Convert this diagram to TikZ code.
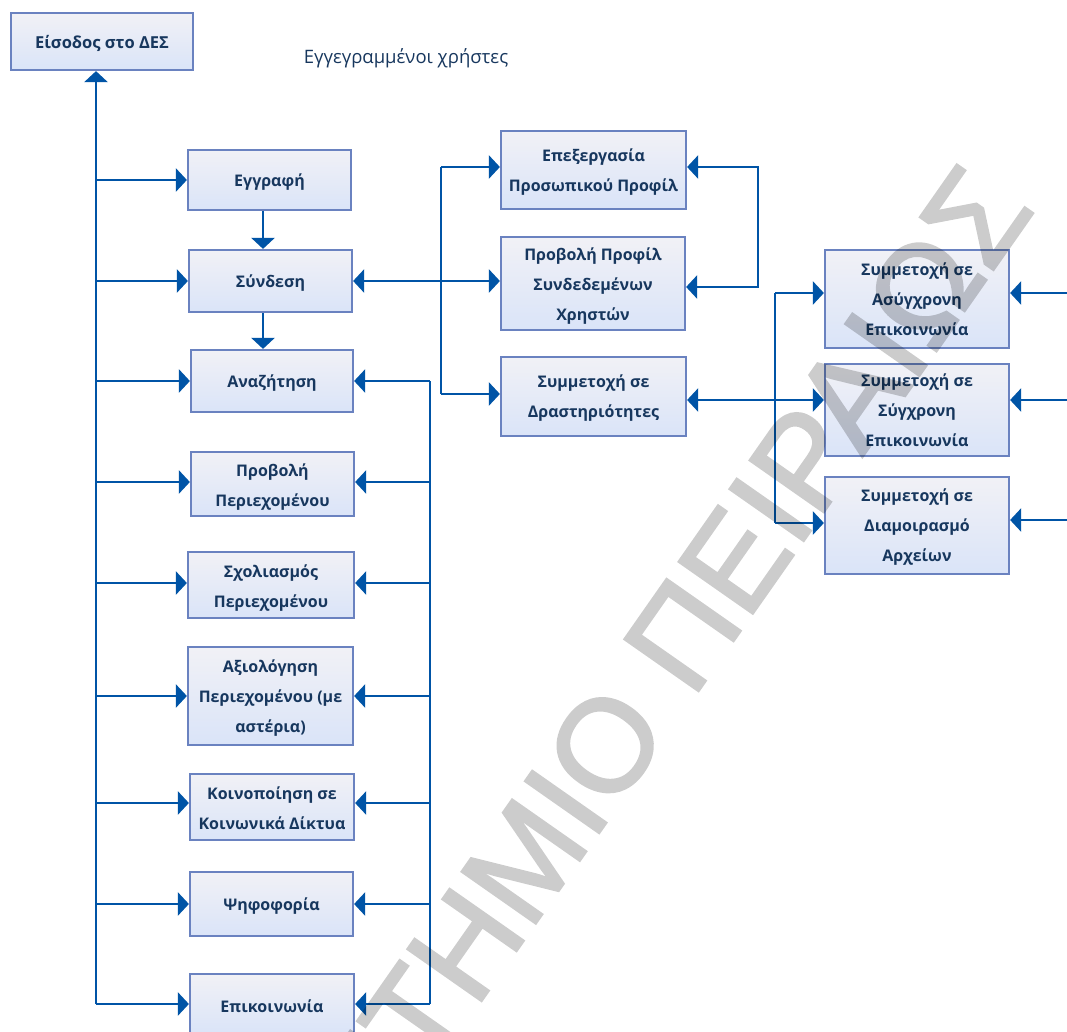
\documentclass[tikz,border=0pt]{standalone}
\usepackage{fontspec}
\setmainfont{Open Sans}
\newfontfamily\wmfont[FakeBold=2]{Liberation Sans}
\usetikzlibrary{arrows.meta,calc}
\definecolor{linkblue}{HTML}{0054A6}
\definecolor{boxline}{HTML}{6A82C0}
\definecolor{boxtop}{HTML}{F1F1F6}
\definecolor{boxbottom}{HTML}{DAE4F8}
\definecolor{inktext}{HTML}{17375E}
\newcommand\dn[1]{\rule{0pt}{#1pt}}
\tikzset{
  flowbox/.style={draw=boxline,line width=2.2pt,top color=boxtop,bottom color=boxbottom,
    inner sep=0pt,align=center,text=inktext,
    font=\fontsize{16}{30}\selectfont\bfseries},
  singleline/.style={flowbox,execute at begin node={\rule{0pt}{17pt}}},
  link/.style={draw=linkblue,line width=2.4pt},
  arrowlink/.style={link,-{Triangle[length=11pt,width=23pt]}},
  bothlink/.style={link,{Triangle[length=11pt,width=23pt]}-{Triangle[length=11pt,width=23pt]}},
  wmark/.style={font=\wmfont\fontsize{131}{131}\selectfont,text=black,inner sep=0pt,rotate=55}
}
\begin{document}
\begin{tikzpicture}[x=1pt,y=-1pt]
\clip (0,0) rectangle (1067,1032);
\fill[white] (0,0) rectangle (1067,1032);
\node[singleline,minimum width=182pt,minimum height=57pt,font=\fontsize{16.5}{30}\selectfont\bfseries] (entry) at (102,41.5) {Είσοδος στο ΔΕΣ};
\node[font=\fontsize{18.5}{22}\selectfont,text=inktext,inner sep=0pt] (title) at (406,58) {Εγγεγραμμένοι χρήστες};
\node[singleline,minimum width=163pt,minimum height=60pt] (reg) at (269.5,180) {Εγγραφή};
\node[singleline,minimum width=163pt,minimum height=62pt] (login) at (270.5,281) {Σύνδεση};
\node[singleline,minimum width=162pt,minimum height=62pt] (search) at (272,381) {Αναζήτηση};
\node[flowbox,minimum width=163pt,minimum height=64pt] (view) at (272.5,484) {\dn{19.5}Προβολή\\Περιεχομένου};
\node[flowbox,minimum width=166pt,minimum height=66pt] (comment) at (271,585) {\dn{18.5}Σχολιασμός\\Περιεχομένου};
\node[flowbox,minimum width=165pt,minimum height=98pt] (rate) at (270.5,696) {\dn{16.5}Αξιολόγηση\\Περιεχομένου (με\\αστέρια)};
\node[flowbox,minimum width=164pt,minimum height=66pt] (share) at (272,807) {\dn{14.5}Κοινοποίηση σε\\Κοινωνικά Δίκτυα};
\node[singleline,minimum width=163pt,minimum height=64pt] (vote) at (271.5,904) {Ψηφοφορία};
\node[singleline,minimum width=164pt,minimum height=60pt] (contact) at (272,1004) {Επικοινωνία};
\node[flowbox,minimum width=185pt,minimum height=78pt] (edit) at (593.5,170) {\dn{16.5}Επεξεργασία\\Προσωπικού Προφίλ};
\node[flowbox,minimum width=184pt,minimum height=93pt] (profile) at (593,283.5) {\dn{18.5}Προβολή Προφίλ\\Συνδεδεμένων\\Χρηστών};
\node[flowbox,minimum width=185pt,minimum height=79pt] (activity) at (593.5,396.5) {\dn{15.5}Συμμετοχή σε\\Δραστηριότητες};
\node[flowbox,minimum width=184pt,minimum height=98pt] (async) at (917,299) {\dn{13.5}Συμμετοχή σε\\Ασύγχρονη\\Επικοινωνία};
\node[flowbox,minimum width=184pt,minimum height=92pt] (sync) at (917,410) {Συμμετοχή σε\\Σύγχρονη\\Επικοινωνία};
\node[flowbox,minimum width=184pt,minimum height=97pt] (files) at (917,525.5) {\dn{16.5}Συμμετοχή σε\\Διαμοιρασμό\\Αρχείων};
\coordinate (spine) at (96,0);
\coordinate (busR) at (430,0);
\coordinate (busM) at (441,0);
\coordinate (busA) at (775,0);
\coordinate (loopX) at (758,0);
\coordinate (edge) at (1067,0);
% spine
\draw[arrowlink] (spine |- contact.west) -- (spine |- entry.south);
\foreach \n in {reg,login,search,rate,vote,contact}
  \draw[arrowlink] (spine |- \n.west) -- (\n.west);
\draw[arrowlink] ($(spine |- view.west)+(0,-2)$) -- ($(view.west)+(0,-2)$);
\draw[arrowlink] ($(spine |- comment.west)+(0,-2)$) -- ($(comment.west)+(0,-2)$);
\draw[arrowlink] ($(spine |- share.west)+(0,-4)$) -- ($(share.west)+(0,-4)$);
% down arrows
\draw[arrowlink] (reg.south -| 263,0) -- (login.north -| 263,0);
\draw[arrowlink] (login.south -| 263,0) -- (search.north -| 263,0);
% right bus
\draw[link] (busR |- search.east) -- (busR |- contact.east);
\foreach \n in {search,rate,vote,contact}
  \draw[arrowlink] (busR |- \n.east) -- (\n.east);
\draw[arrowlink] ($(busR |- view.east)+(0,-2)$) -- ($(view.east)+(0,-2)$);
\draw[arrowlink] ($(busR |- comment.east)+(0,-2)$) -- ($(comment.east)+(0,-2)$);
\draw[arrowlink] ($(busR |- share.east)+(0,-4)$) -- ($(share.east)+(0,-4)$);
% middle
\draw[bothlink] (login.east) -- ($(profile.west)+(0,-2.5)$);
\draw[link] ($(busM |- edit.east)+(0,-3)$) -- ($(busM |- activity.west)+(0,-2.5)$);
\draw[arrowlink] ($(busM |- edit.west)+(0,-3)$) -- ($(edit.west)+(0,-3)$);
\draw[arrowlink] ($(busM |- activity.west)+(0,-2.5)$) -- ($(activity.west)+(0,-2.5)$);
\draw[bothlink] ($(edit.east)+(0,-3)$) -| (loopX |- 0,225) |- ($(profile.east)+(0,3.5)$);
% right group
\draw[bothlink] ($(activity.east)+(0,3.5)$) -- ($(sync.west)+(0,-10)$);
\draw[link] ($(busA |- async.west)+(0,-6)$) -- ($(busA |- files.west)+(0,-2.5)$);
\draw[arrowlink] ($(busA |- async.west)+(0,-6)$) -- ($(async.west)+(0,-6)$);
\draw[arrowlink] ($(busA |- files.west)+(0,-2.5)$) -- ($(files.west)+(0,-2.5)$);
\draw[arrowlink] ($(edge |- async.east)+(0,-6)$) -- ($(async.east)+(0,-6)$);
\draw[arrowlink] ($(edge |- sync.east)+(0,-10)$) -- ($(sync.east)+(0,-10)$);
\draw[arrowlink] ($(edge |- files.east)+(0,-5.5)$) -- ($(files.east)+(0,-5.5)$);
% watermark
\begin{scope}[transparency group,opacity=.2]
\node[wmark,anchor=base west] (mark) at (99,1547) {ΠΑΝΕΠΙΣΤΗΜΙΟ ΠΕΙΡΑΙΩΣ};
\end{scope}
\end{tikzpicture}
\end{document}
